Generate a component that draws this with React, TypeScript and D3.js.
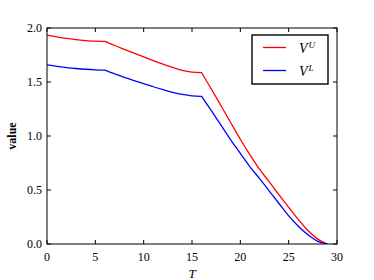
import * as d3 from 'd3'

const T = [0, 1, 2, 3, 4, 5, 6, 7, 8, 9, 10, 11, 12, 13, 14, 15, 16, 17, 18, 19, 20, 21, 22, 23, 24, 25, 26, 27, 28, 29]
const upper = [1.935, 1.918, 1.903, 1.892, 1.884, 1.878, 1.876, 1.838, 1.803, 1.768, 1.733, 1.698, 1.665, 1.635, 1.608, 1.592, 1.586,
  1.435, 1.28, 1.125, 0.97, 0.825, 0.69, 0.575, 0.455, 0.34, 0.225, 0.125, 0.045, 0]
const lower = [1.658, 1.645, 1.634, 1.625, 1.618, 1.613, 1.61, 1.575, 1.543, 1.513, 1.484, 1.456, 1.43, 1.405, 1.385, 1.372, 1.367,
  1.235, 1.1, 0.965, 0.84, 0.715, 0.605, 0.49, 0.375, 0.26, 0.165, 0.085, 0.025, 0]
// kinks in the curves (T = 6 and T = 16)
const breaks = [0, 6, 16, 29]
const xTicks = [0, 5, 10, 15, 20, 25, 30]
const yTicks = [0, 0.5, 1.0, 1.5, 2.0]
const series = [
  { name: 'U', values: upper, color: '#ff0000' },
  { name: 'L', values: lower, color: '#0000ff' },
]

const W = 374
const H = 280
const m = { left: 47, right: 37, top: 28, bottom: 36 }
const serif = "'Liberation Serif', 'DejaVu Serif', serif"

export default function App() {
  const x = d3.scaleLinear().domain([0, 30]).range([m.left, W - m.right])
  const y = d3.scaleLinear().domain([0, 2]).range([H - m.bottom, m.top])
  const line = d3.line<[number, number]>().x(d => x(d[0])).y(d => y(d[1])).curve(d3.curveMonotoneX)
  const pathFor = (vals: number[]) => {
    const pts: [number, number][] = T.map((t, i) => [t, vals[i]])
    let d = ''
    for (let k = 0; k < breaks.length - 1; k++) {
      const seg = pts.filter(p => p[0] >= breaks[k] && p[0] <= breaks[k + 1])
      const s = line(seg) ?? ''
      d += k === 0 ? s : 'L' + s.slice(1)
    }
    return d
  }
  const tl = 4

  return (
    <svg width={W} height={H} style={{ position: 'absolute', left: 0, top: 0, background: '#fff' }}>
      <g clipPath="url(#plot)">
        <clipPath id="plot">
          <rect x={m.left} y={m.top} width={W - m.left - m.right} height={H - m.top - m.bottom} />
        </clipPath>
        {series.map(s => (
          <path key={s.name} d={pathFor(s.values)} fill="none" stroke={s.color} strokeWidth={1.3} />
        ))}
      </g>
      <rect x={m.left} y={m.top} width={W - m.left - m.right} height={H - m.top - m.bottom}
        fill="none" stroke="#000" strokeWidth={1} />
      {xTicks.map(t => (
        <g key={'x' + t}>
          <line x1={x(t)} x2={x(t)} y1={y(0)} y2={y(0) - tl} stroke="#000" />
          <line x1={x(t)} x2={x(t)} y1={y(2)} y2={y(2) + tl} stroke="#000" />
          <text x={x(t)} y={y(0) + 17} textAnchor="middle" fontFamily={serif} fontSize={12}>{t}</text>
        </g>
      ))}
      {yTicks.map(t => (
        <g key={'y' + t}>
          <line x1={x(0)} x2={x(0) + tl} y1={y(t)} y2={y(t)} stroke="#000" />
          <line x1={x(30)} x2={x(30) - tl} y1={y(t)} y2={y(t)} stroke="#000" />
          <text x={x(0) - 5} y={y(t) + 4} textAnchor="end" fontFamily={serif} fontSize={12}>{t.toFixed(1)}</text>
        </g>
      ))}
      <text x={(x(0) + x(30)) / 2} y={278} textAnchor="middle" fontFamily={serif} fontStyle="italic" fontSize={13}>T</text>
      <text transform={`translate(16,${(y(0) + y(2)) / 2}) rotate(-90)`} textAnchor="middle"
        fontFamily={serif} fontWeight="bold" fontSize={12}>value</text>
      <g transform="translate(252,35)">
        <rect width={76} height={49} fill="#fff" stroke="#000" strokeWidth={1.4} />
        {series.map((s, i) => (
          <g key={s.name} transform={`translate(0,${12.5 + i * 23})`}>
            <line x1={11} x2={34} y1={0} y2={0} stroke={s.color} strokeWidth={1.3} />
            <text x={47} y={5} fontFamily={serif} fontStyle="italic" fontSize={14}>
              V<tspan dx={1} dy={-5} fontSize={9}>{s.name}</tspan>
            </text>
          </g>
        ))}
      </g>
    </svg>
  )
}
